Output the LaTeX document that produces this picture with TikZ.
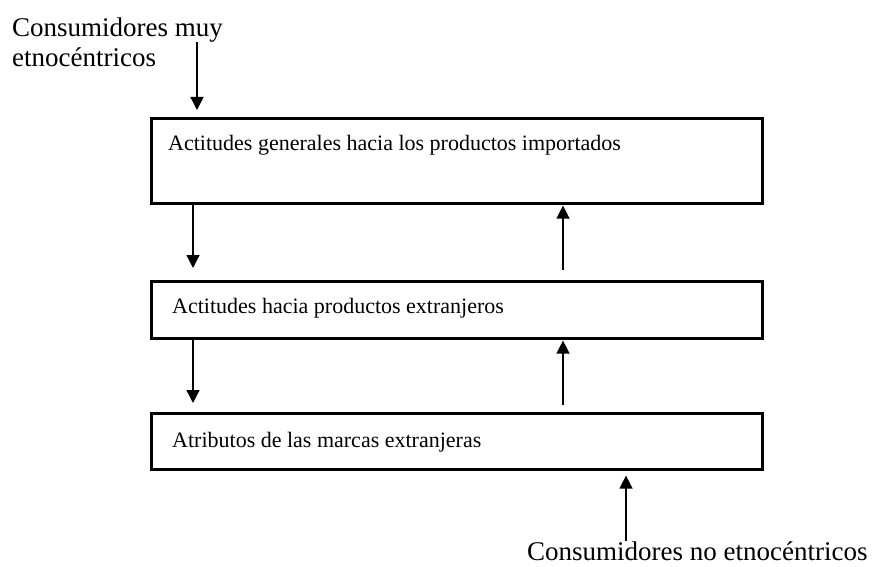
\documentclass[tikz,border=0pt]{standalone}
\usepackage{fontspec}
\setmainfont{Liberation Serif}
\usetikzlibrary{arrows.meta}
\tikzset{
  boxnode/.style={draw, line width=2.6pt, rectangle, inner sep=0pt, anchor=north west},
  boxtext/.style={anchor=base west, inner sep=0pt, font=\fontsize{22}{26}\selectfont},
  lbl/.style={anchor=base west, inner sep=0pt, font=\fontsize{27}{30}\selectfont, align=left},
  arr/.style={line width=1.4pt, -{Triangle[length=13pt,width=13pt]}}
}
\begin{document}
\begin{tikzpicture}[x=1pt,y=-1pt]
\useasboundingbox (0,0) rectangle (881,567);
% boxes
\node[boxnode, minimum width=611pt, minimum height=85pt] (b1) at (150,117) {};
\node[boxnode, minimum width=611pt, minimum height=57pt] (b2) at (150,280) {};
\node[boxnode, minimum width=611pt, minimum height=56pt] (b3) at (150,412) {};
% texts
\node[boxtext] (t1) at (168,150) {Actitudes generales hacia los productos importados};
\node[boxtext] (t2) at (172,313) {Actitudes hacia productos extranjeros};
\node[boxtext] (t3) at (172,447) {Atributos de las marcas extranjeras};
\node[lbl] (l1) at (12,37) {Consumidores muy};
\node[lbl] (l2) at (12,67) {etnocéntricos};
\node[lbl] (l3) at (527,560) {Consumidores no etnocéntricos};
\coordinate (c1) at (197,42);
\coordinate (c2) at (626,541);
% arrows
\draw[arr, shorten >=7pt] (c1) -- (c1 |- b1.north);
\draw[arr, shorten >=12pt] ([xshift=43pt]b1.south west) -- ([xshift=43pt]b2.north west);
\draw[arr, shorten <=10pt, shorten >=1pt] ([xshift=413pt]b2.north west) -- ([xshift=413pt]b1.south west);
\draw[arr, shorten >=9pt] ([xshift=43pt]b2.south west) -- ([xshift=43pt]b3.north west);
\draw[arr, shorten <=7pt, shorten >=1pt] ([xshift=413pt]b3.north west) -- ([xshift=413pt]b2.south west);
\draw[arr, shorten >=5pt] (c2) -- (c2 |- b3.south);
\end{tikzpicture}
\end{document}
